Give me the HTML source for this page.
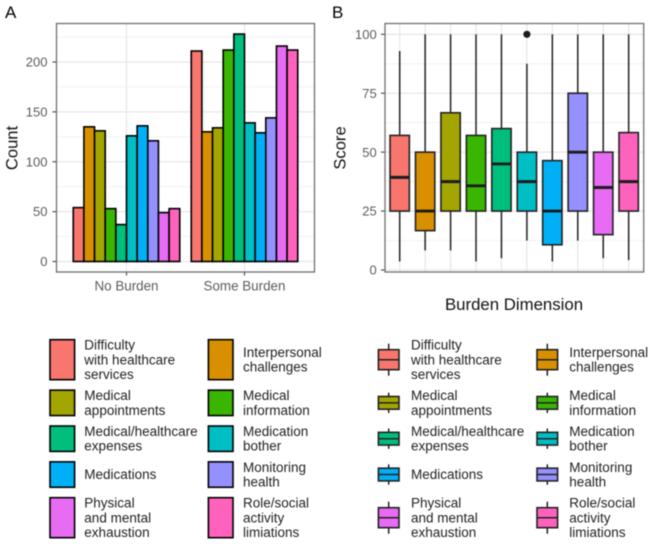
<!DOCTYPE html>
<html lang="en">
<head>
<meta charset="utf-8">
<title>Burden dimension charts</title>
<style>
html,body{margin:0;padding:0;background:#fff;width:653px;height:544px;overflow:hidden}
svg{display:block;filter:blur(0.4px)}
text{font-family:"Liberation Sans",sans-serif}
</style>
</head>
<body>
<svg id="fig" width="653" height="544" viewBox="0 0 653 544" xmlns="http://www.w3.org/2000/svg">
  <rect width="653" height="544" fill="#fff"/>
  <text x="5" y="18" font-size="17" fill="#000">A</text>
  <text x="332" y="18" font-size="17" fill="#000">B</text>
  <g id="chartA"></g>
  <g id="chartB"></g>
  <text transform="translate(17.5,148) rotate(-90)" text-anchor="middle" font-size="16.6" fill="#111">Count</text>
  <text transform="translate(345.5,148) rotate(-90)" text-anchor="middle" font-size="16.6" fill="#111">Score</text>
  <text x="514" y="310" text-anchor="middle" font-size="16.8" fill="#111">Burden Dimension</text>
  <g id="legendA"></g>
  <g id="legendB"></g>
</svg>
<script>
const colors = ['#F8766D','#D89000','#A3A500','#39B600','#00BF7D','#00BFC4','#00B0F6','#9590FF','#E76BF3','#FF62BC'];
const legendLabels = [
  ['Difficulty','with healthcare','services'],
  ['Interpersonal','challenges'],
  ['Medical','appointments'],
  ['Medical','information'],
  ['Medical/healthcare','expenses'],
  ['Medication','bother'],
  ['Medications'],
  ['Monitoring','health'],
  ['Physical','and mental','exhaustion'],
  ['Role/social','activity','limiations']
];
const groupNames = ['No Burden','Some Burden'];
const noBurdenCounts = [54,135,131,53,37,126,136,121,49,53];
const someBurdenCounts = [211,130,134,212,228,139,129,144,216,212];
const countTicks = [0,50,100,150,200];
const scoreTicks = [0,25,50,75,100];
const boxLow = [3.6,8.3,8.3,3.6,5,12.5,3.6,12.5,5,4.2];
const boxQ1 = [25,16.7,25,25,25,25,10.7,25,15,25];
const boxMedian = [39.3,25,37.5,35.7,45,37.5,25,50,35,37.5];
const boxQ3 = [57.1,50,66.7,57.1,60,50,46.4,75,50,58.3];
const boxHigh = [92.9,100,100,100,100,87.5,100,100,100,100];
const boxOutliers = [[],[],[],[],[],[100],[],[],[],[]];

const NS = 'http://www.w3.org/2000/svg';
function mk(parent, tag, attrs, txt) {
  const el = document.createElementNS(NS, tag);
  for (const k in attrs) el.setAttribute(k, attrs[k]);
  if (txt !== undefined) el.textContent = txt;
  parent.appendChild(el);
  return el;
}

/* axis functions */
const yA = v => 261.5 - v * 0.9975;
const groupX = g => 126.5 + g * 118;
const barW = 10.65;
const barLeft = (g, i) => groupX(g) - 5 * barW + i * barW;
const yB = v => 270 - v * 2.357;
const xB = i => 399.7 + i * 25.44;
const boxW = 19.3;

const PA = {l:56.5, r:314.5, t:23.5, b:272};
const PB = {l:385, r:643.7, t:23.5, b:272};

/* ---------- chart A ---------- */
const A = document.getElementById('chartA');
for (let t = 0; t < countTicks.length; t++) {
  const mid = countTicks[t] + (countTicks[1] - countTicks[0]) / 2;
  const mn = mk(A, 'line', {x1:PA.l, x2:PA.r, y1:yA(mid), y2:yA(mid), stroke:'#f0f0f0', 'stroke-width':0.9});
  
  
  const gl = mk(A, 'line', {x1:PA.l, x2:PA.r, y1:yA(countTicks[t]), y2:yA(countTicks[t]), stroke:'#e8e8e8', 'stroke-width':1.3});
  
  
  const tk = mk(A, 'line', {x1:52.5, x2:PA.l, y1:yA(countTicks[t]), y2:yA(countTicks[t]), stroke:'#444', 'stroke-width':1.1});
  
  
  const lb = mk(A, 'text', {x:47.5, y:yA(countTicks[t]) + 4.6, 'text-anchor':'end', 'font-size':13, fill:'#5c5c5c'}, countTicks[t]);
  
  
}
groupNames.forEach((name, g) => {
  const gv = mk(A, 'line', {x1:groupX(g), x2:groupX(g), y1:PA.t, y2:PA.b, stroke:'#e8e8e8', 'stroke-width':1.3});
  
  
  const tk = mk(A, 'line', {x1:groupX(g), x2:groupX(g), y1:PA.b, y2:PA.b + 3.5, stroke:'#444', 'stroke-width':1.1});
  
  
  const lb = mk(A, 'text', {x:groupX(g), y:290.7, 'text-anchor':'middle', 'font-size':13.4, fill:'#5c5c5c'}, name);
  
  
});
[noBurdenCounts, someBurdenCounts].forEach((vals, g) => {
  vals.forEach((v, i) => {
    const b = mk(A, 'rect', {x:barLeft(g, i), y:yA(v), width:barW, height:yA(0) - yA(v), fill:colors[i], stroke:'#000', 'stroke-width':1.6});
    
    
  });
});
const borderA = mk(A, 'rect', {x:PA.l, y:PA.t, width:PA.r - PA.l, height:PA.b - PA.t, fill:'none', stroke:'#707070', 'stroke-width':1.3});



/* ---------- chart B ---------- */
const B = document.getElementById('chartB');
scoreTicks.forEach((v, t) => {
  if (t < scoreTicks.length - 1) {
    const mid = v + (scoreTicks[1] - scoreTicks[0]) / 2;
    const mn = mk(B, 'line', {x1:PB.l, x2:PB.r, y1:yB(mid), y2:yB(mid), stroke:'#f0f0f0', 'stroke-width':0.9});
    
    
  }
  const gl = mk(B, 'line', {x1:PB.l, x2:PB.r, y1:yB(v), y2:yB(v), stroke:'#e8e8e8', 'stroke-width':1.3});
  
  
  const tk = mk(B, 'line', {x1:381, x2:PB.l, y1:yB(v), y2:yB(v), stroke:'#444', 'stroke-width':1.1});
  
  
  const lb = mk(B, 'text', {x:376.7, y:yB(v) + 4.6, 'text-anchor':'end', 'font-size':13, fill:'#5c5c5c'}, v);
  
  
});
boxMedian.forEach((m, i) => {
  const cx = xB(i);
  const gv = mk(B, 'line', {x1:cx, x2:cx, y1:PB.t, y2:PB.b, stroke:'#e8e8e8', 'stroke-width':1.3});
  
  
});
boxMedian.forEach((m, i) => {
  const cx = xB(i);
  const w1 = mk(B, 'line', {x1:cx, x2:cx, y1:yB(boxHigh[i]), y2:yB(boxQ3[i]), stroke:'#222', 'stroke-width':1.5});
  
  
  const w2 = mk(B, 'line', {x1:cx, x2:cx, y1:yB(boxQ1[i]), y2:yB(boxLow[i]), stroke:'#222', 'stroke-width':1.5});
  
  
  const r = mk(B, 'rect', {x:cx - boxW / 2, y:yB(boxQ3[i]), width:boxW, height:yB(boxQ1[i]) - yB(boxQ3[i]), fill:colors[i], stroke:'#222', 'stroke-width':1.6});
  
  
  const ml = mk(B, 'line', {x1:cx - boxW / 2, x2:cx + boxW / 2, y1:yB(m), y2:yB(m), stroke:'#1c1c1c', 'stroke-width':2.9});
  
  
  boxOutliers[i].forEach(o => {
    const c = mk(B, 'circle', {cx:cx, cy:yB(o), r:3.6, fill:'#1c1c1c'});
    
    
  });
});
const borderB = mk(B, 'rect', {x:PB.l, y:PB.t, width:PB.r - PB.l, height:PB.b - PB.t, fill:'none', stroke:'#707070', 'stroke-width':1.3});



/* ---------- legends ---------- */
function rowHeight(r) {
  const n = Math.max(legendLabels[r * 2].length, legendLabels[r * 2 + 1].length);
  return n === 3 ? 40 : 25.4;
}
function rowLayout(row) {
  let y = 339.7;
  for (let r = 0; r < row; r++) y += rowHeight(r) + 10.45;
  return {y: y, h: rowHeight(row)};
}
function legendText(parent, lines, x, cy) {
  lines.forEach((s, k) => {
    const t = mk(parent, 'text', {x:x, y:cy + (k - (lines.length - 1) / 2) * 14.8 + 4.6, 'font-size':13.5, fill:'#222'}, s);
    
    
  });
}
const LA = document.getElementById('legendA');
const LB = document.getElementById('legendB');
legendLabels.forEach((lines, i) => {
  const row = Math.floor(i / 2), col = i % 2;
  const L = rowLayout(row), cy = L.y + L.h / 2;

  const sx = col ? 208.4 : 50;
  const sw = mk(LA, 'rect', {x:sx, y:L.y, width:24.6, height:L.h, fill:colors[i], stroke:'#000', 'stroke-width':1.6});
  
  
  legendText(LA, lines, col ? 243 : 84.3, cy);

  const kx = col ? 547.3 : 388.7;
  const wh = mk(LB, 'line', {x1:kx, x2:kx, y1:L.y + L.h * 0.1, y2:L.y + L.h * 0.9, stroke:'#222', 'stroke-width':1.5});
  
  
  const bx = mk(LB, 'rect', {x:kx - 10.3, y:L.y + L.h * 0.25, width:20.6, height:L.h * 0.5, fill:colors[i], stroke:'#222', 'stroke-width':1.6});
  
  
  const md = mk(LB, 'line', {x1:kx - 10.3, x2:kx + 10.3, y1:cy, y2:cy, stroke:'#222', 'stroke-width':1.5});
  
  
  legendText(LB, lines, col ? 569.3 : 411, cy);
});
</script>
</body>
</html>
